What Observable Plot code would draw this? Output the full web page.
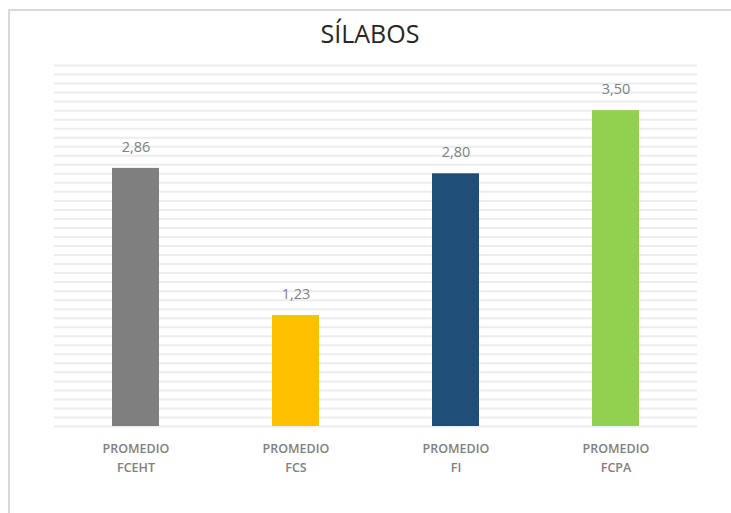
<!DOCTYPE html>
<html>
<head>
<meta charset="utf-8">
<script src="https://cdn.jsdelivr.net/npm/d3@7"></script>
<script src="https://cdn.jsdelivr.net/npm/@observablehq/plot@0.6"></script>
<style>
  html, body { margin: 0; padding: 0; background: #fff; overflow: hidden; width: 731px; height: 513px; }
  #frame { position: absolute; left: 8px; top: 9px; width: 900px; height: 700px; border-top: 2px solid #d9d9d9; border-left: 2px solid #d9d9d9; box-sizing: border-box; }
  #title { position: absolute; left: 0; top: 16px; width: 740px; text-align: center; font-family: "Open Sans", sans-serif; font-size: 25px; color: #262626; line-height: 34px; }
  #chart { position: absolute; left: 0; top: 50px; }
</style>
</head>
<body>
<div id="frame"></div>
<div id="title">SÍLABOS</div>
<div id="chart"></div>
<script>
const categories = ["FCEHT", "FCS", "FI", "FCPA"];
const prefix = "PROMEDIO";
const values = [2.86, 1.23, 2.80, 3.50];
const colors = ["#7f7f7f", "#ffc000", "#1f4e79", "#92d050"];
const gridTicks = d3.range(0, 41).map(i => i / 10);

const data = categories.map((c, i) => ({ cat: c, value: values[i], color: colors[i] }));

const chart = Plot.plot({
  width: 731,
  height: 463,
  marginTop: 15,
  marginBottom: 87,
  marginLeft: 54,
  marginRight: 34,
  style: { fontFamily: "Open Sans, sans-serif", background: "transparent" },
  x: { domain: categories, paddingInner: 0.707, paddingOuter: 0.3535, label: null },
  y: { domain: [0, 4], label: null },
  marks: [
    Plot.gridY(gridTicks, { stroke: "#ececec", strokeOpacity: 1, strokeWidth: 2 }),
    Plot.barY(data, { x: "cat", y: "value", fill: "color" }),
    Plot.text(data, {
      x: "cat", y: "value", text: d => d.value.toFixed(2).replace(".", ","),
      dy: -21, fill: "#808080", fontSize: 14.5
    }),
    Plot.axisX({
      tickSize: 0, tickPadding: 13, fontSize: 12.5, fontWeight: 600,
      fill: "#808080", lineHeight: 1.5, label: null,
      tickFormat: d => prefix + "\n" + d
    }),
    Plot.axisY({ ticks: [], label: null })
  ]
});
document.getElementById("chart").appendChild(chart);
</script>
</body>
</html>
